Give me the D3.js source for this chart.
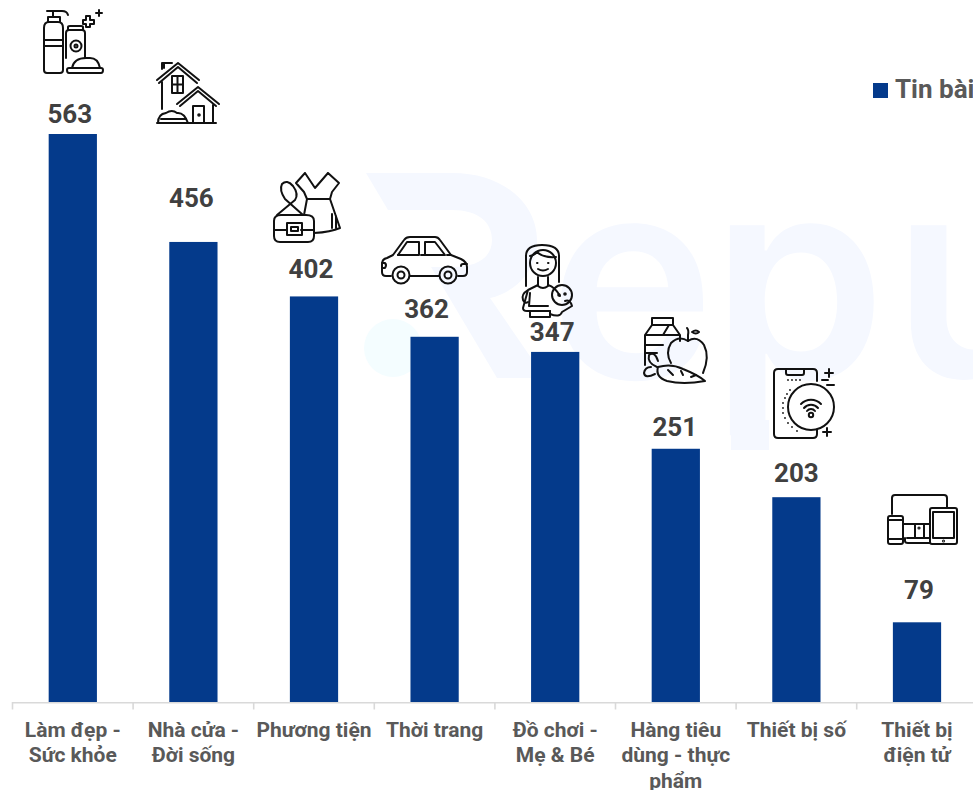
<!DOCTYPE html>
<html>
<head>
<meta charset="utf-8">
<script src="https://cdn.jsdelivr.net/npm/d3@7"></script>
<style>
  html, body { margin: 0; padding: 0; background: #fff; overflow: hidden; }
  svg { display: block; font-family: Roboto, sans-serif; }
</style>
</head>
<body>
<svg id="chart" width="973" height="790"></svg>
<script>
const categories = ["Làm đẹp - Sức khỏe", "Nhà cửa - Đời sống", "Phương tiện", "Thời trang", "Đồ chơi - Mẹ & Bé", "Hàng tiêu dùng - thực phẩm", "Thiết bị số", "Thiết bị điện tử"];
const labelLines = [["Làm đẹp -", "Sức khỏe"], ["Nhà cửa -", "Đời sống"], ["Phương tiện"], ["Thời trang"], ["Đồ chơi -", "Mẹ & Bé"], ["Hàng tiêu", "dùng - thực", "phẩm"], ["Thiết bị số"], ["Thiết bị", "điện tử"]];
const values = [563, 456, 402, 362, 347, 251, 203, 79];
const legendLabel = "Tin bài";

// value labels were moved by hand in the original, so keep their nudges apart
const labelNudge = [[-3, -11], [-2, -35], [-3, -18], [-8, -19], [-3, -11], [-1, -13], [0, -15], [2, -23]];

const svg = d3.select("#chart");
const blue = "#043a8b";

// watermark
const mark = svg.append("g");
mark.append("path")
  .attr("d", "M366 173H452C505 173 537 205 537 240C537 272 515 292 490 298L545 378H497L431 267H452C478 267 492 257 492 240C492 222 478 210 452 210H388Z")
  .attr("fill", "#f5f8ff");
mark.append("circle").attr("cx", 393).attr("cy", 348).attr("r", 29).attr("fill", "#f4fdff");
mark.append("text")
  .attr("x", "549 711 892").attr("y", 378)
  .attr("font-family", "Inter").attr("font-weight", 600).attr("font-size", 280)
  .attr("fill", "#f5f8ff")
  .text("epu");
mark.append("rect").attr("x", 731).attr("y", 420).attr("width", 38).attr("height", 30).attr("fill", "#f5f8ff");

const x = d3.scaleBand().domain(categories).range([12.5, 977.3]).paddingInner(0.6).paddingOuter(0.3);
const y = d3.scaleLinear().domain([0, 563]).range([702, 134]);

// bars
svg.selectAll(".bar")
  .data(categories)
  .enter()
  .append("rect")
  .attr("class", "bar")
  .attr("x", d => x(d))
  .attr("y", (d, i) => y(values[i]))
  .attr("width", x.bandwidth())
  .attr("height", (d, i) => y(0) - y(values[i]))
  .attr("fill", blue);

// axis line + ticks sit on the band edges, not the centres
const axis = svg.append("g").attr("stroke", "#d9d9d9").attr("stroke-width", 1.6);
axis.append("line").attr("x1", 12.5).attr("x2", 973).attr("y1", y(0) + 0.8).attr("y2", y(0) + 0.8);
axis.selectAll(".tick")
  .data(categories)
  .enter()
  .append("line")
  .attr("class", "tick")
  .attr("x1", d => x(d) - x.step() * 0.3)
  .attr("x2", d => x(d) - x.step() * 0.3)
  .attr("y1", y(0))
  .attr("y2", y(0) + 7.5);

// value labels
svg.selectAll(".value")
  .data(categories)
  .enter()
  .append("text")
  .attr("class", "value")
  .attr("x", (d, i) => x(d) + x.bandwidth() / 2 + labelNudge[i][0])
  .attr("y", (d, i) => y(values[i]) + labelNudge[i][1])
  .attr("text-anchor", "middle")
  .attr("font-size", 26)
  .attr("font-weight", 700)
  .attr("fill", "#404040")
  .text((d, i) => values[i]);

// category labels
const cat = svg.selectAll(".cat")
  .data(categories)
  .enter()
  .append("text")
  .attr("class", "cat")
  .attr("text-anchor", "middle")
  .attr("font-size", 21)
  .attr("font-weight", 700)
  .attr("fill", "#595959");
cat.selectAll("tspan")
  .data((d, i) => labelLines[i].map(t => ({ t, c: d })))
  .enter()
  .append("tspan")
  .attr("x", d => x(d.c) + x.bandwidth() / 2)
  .attr("y", (d, i) => 736.5 + i * 25.5)
  .text(d => d.t);

// legend, cut by the right edge like the reference
svg.append("rect").attr("x", 873).attr("y", 83).attr("width", 15).attr("height", 15).attr("fill", blue);
svg.append("text").attr("x", 895).attr("y", 97.5)
  .attr("font-size", 26).attr("font-weight", 700).attr("fill", "#595959")
  .text(legendLabel);

// line icons above the bars, each drawn in its own local box
const icons = [
  { at: [43, 10], d: [
    "M1 18V60Q1 63 4 63H17Q20 63 20 60V18Q20 12 15 12H6Q1 12 1 18Z", "M1 30H20M1 36H20",
    "M5 12V7H17V12M10 7V1M4 1H19Q24 1 25 5",
    "M23 48V23Q23 20 26 20H39Q42 20 42 23V48", "M25 20V17Q25 16 27 16H38Q40 16 40 17V20",
    "M29 58Q31 48 43 48H47Q55 48 57 58", "M26 58H58Q60 58 60 60Q60 63 58 63H26Q24 63 24 60Q24 58 26 58Z",
    "M43 6H47V10H51V14H47V17H43V14H40V10H43Z", "M56 0V6M53 3H59"
  ], c: [[33, 36, 5.5], [33, 36, 1.5]] },
  { at: [156, 62], d: [
    "M1 18L22 1L43 18M3 21L22 5L41 21", "M6 7V1H16", "M8 1V6M6 20V47",
    "M16 14H27V31H16ZM21.5 14V31M16 22.5H27",
    "M21 42L42 25L63 42M24 44L42 29L60 44", "M57 43V61M37 44V61M37 44H48V61",
    "M1 61H60", "M2 61Q2 52 10 51Q16 47 21 51Q28 50 32 61", "M5 57H30"
  ], c: [[43, 53, 0.8]] },
  { at: [273, 172], d: [
    "M32 1L42 16L55 1M32 1L23 11L31 20L34 27M55 1L66 11L59 20L57 27M34 27H57",
    "M34 27L31 43M57 27L67 56Q58 60 41 61M59 42V56M63 44V56",
    "M1 49Q1 43 8 43H33Q41 43 41 49V64Q41 70 35 70H7Q1 70 1 64Z", "M1 58H14M28 58H41",
    "M14 51H29V63H14ZM18 55H25V59H18Z",
    "M4 43L22 28Q26 22 20 14Q14 7 9 12Q6 18 12 27L30 43"
  ], c: [] },
  { at: [381, 236], d: [
    "M10 40H5Q1 40 1 36V28Q1 23 6 22L12 19L23 4Q25 1 29 1H54Q57 1 59 4L70 19L80 23Q86 26 86 31V36Q86 40 82 40H77",
    "M29 40H58", "M17 19L26 6H38V19ZM44 6H54L64 19H44Z", "M17 19H22M40 19H46M66 19H70",
    "M1 27H4Q6 29 4 32H1M86 28H82Q80 28 80 30"
  ], c: [[20, 39, 8.5], [20, 39, 3.5], [67, 39, 8.5], [67, 39, 3.5]] },
  { at: [520, 244], d: [
    "M6 42V12Q6 1 22 1Q39 1 39 12V38", "M10 12Q15 11 17 8Q23 14 36 13",
    "M18 33V42Q23 46 28 42V33", "M18 25Q23 28 28 25",
    "M18 41L8 46Q1 50 3 56Q5 60 8 58M8 46L3 64Q3 67 7 67H30", "M28 41Q35 43 40 52",
    "M10 49L9 62H28", "M10 67V73H30V67", "M30 70Q40 74 42 68L52 62Q50 55 45 57",
    "M17 19H17.5M28 19H28.5"
  ], c: [[23, 19, 13], [42, 51, 10], [39, 51, 0.8], [45, 50, 0.8]] },
  { at: [643, 317], d: [
    "M9 1H30V8H9ZM9 8L2 18V48M30 8L37 18V24M2 18H37M20 18L26 8", "M2 28H20M2 36H14",
    "M45 24V18Q46 13 44 11", "M49 15Q53 18 56 15Q53 12 49 15Z",
    "M45 24Q36 18 28 26Q22 36 28 46M45 24Q54 18 61 28Q67 40 60 56",
    "M15 50Q28 46 40 52Q55 58 62 64Q40 68 24 64Q12 60 15 50Z", "M25 53L30 58M38 54L40 58M48 60L53 58",
    "M14 50Q4 46 6 38Q12 34 15 44M12 57Q2 62 1 56Q2 50 8 50"
  ], c: [] },
  { at: [773, 368], d: [
    "M44 13V5Q44 1 40 1H5Q1 1 1 5V66Q1 70 5 70H40Q44 70 44 66V62", "M13 1V5Q13 7 15 7H29Q31 7 31 5V1",
    "M52 5H60M56 1V9M49 12H55M54 17H61M50 64H58M54 60V68",
    "M28 36A14 14 0 0 1 48 36M31 40A9 9 0 0 1 45 40M34 43A5 5 0 0 1 42 43"
  ], c: [[38, 39, 23], [38, 47, 2.2]], dots: [[15, 12], [19, 12], [23, 12], [27, 12], [17, 22], [14, 26], [12, 30], [10, 35], [10, 40], [10, 45], [12, 50], [15, 55], [19, 59], [24, 63]] },
  { at: [887, 494], d: [
    "M5 20V4Q5 1 8 1H57Q60 1 60 4V13", "M17 30H43", "M28 30V44M37 30V44", "M18 44V47Q18 49 21 49H43M20 44H43",
    "M1 24Q1 22 3 22H14Q16 22 16 24V48Q16 50 14 50H3Q1 50 1 48ZM1 26H16M1 45H16",
    "M43 16Q43 14 45 14H68Q70 14 70 16V48Q70 50 68 50H45Q43 50 43 48ZM46 18H67V44H46Z"
  ], c: [[32, 34, 0.6], [56.5, 47, 0.5]] }
];

const iconG = svg.selectAll(".icon")
  .data(icons)
  .enter()
  .append("g")
  .attr("class", "icon")
  .attr("transform", d => `translate(${d.at[0]},${d.at[1]})`)
  .attr("fill", "none")
  .attr("stroke", "#111")
  .attr("stroke-width", 2)
  .attr("stroke-linecap", "round")
  .attr("stroke-linejoin", "round");
iconG.selectAll("circle.c")
  .data(d => d.c)
  .enter()
  .append("circle")
  .attr("class", "c")
  .attr("cx", d => d[0])
  .attr("cy", d => d[1])
  .attr("r", d => d[2]);
iconG.selectAll("path")
  .data(d => d.d)
  .enter()
  .append("path")
  .attr("d", d => d);
iconG.selectAll("circle.dot")
  .data(d => d.dots || [])
  .enter()
  .append("circle")
  .attr("class", "dot")
  .attr("cx", d => d[0])
  .attr("cy", d => d[1])
  .attr("r", 0.9)
  .attr("fill", "#111")
  .attr("stroke", "none");
</script>
</body>
</html>
